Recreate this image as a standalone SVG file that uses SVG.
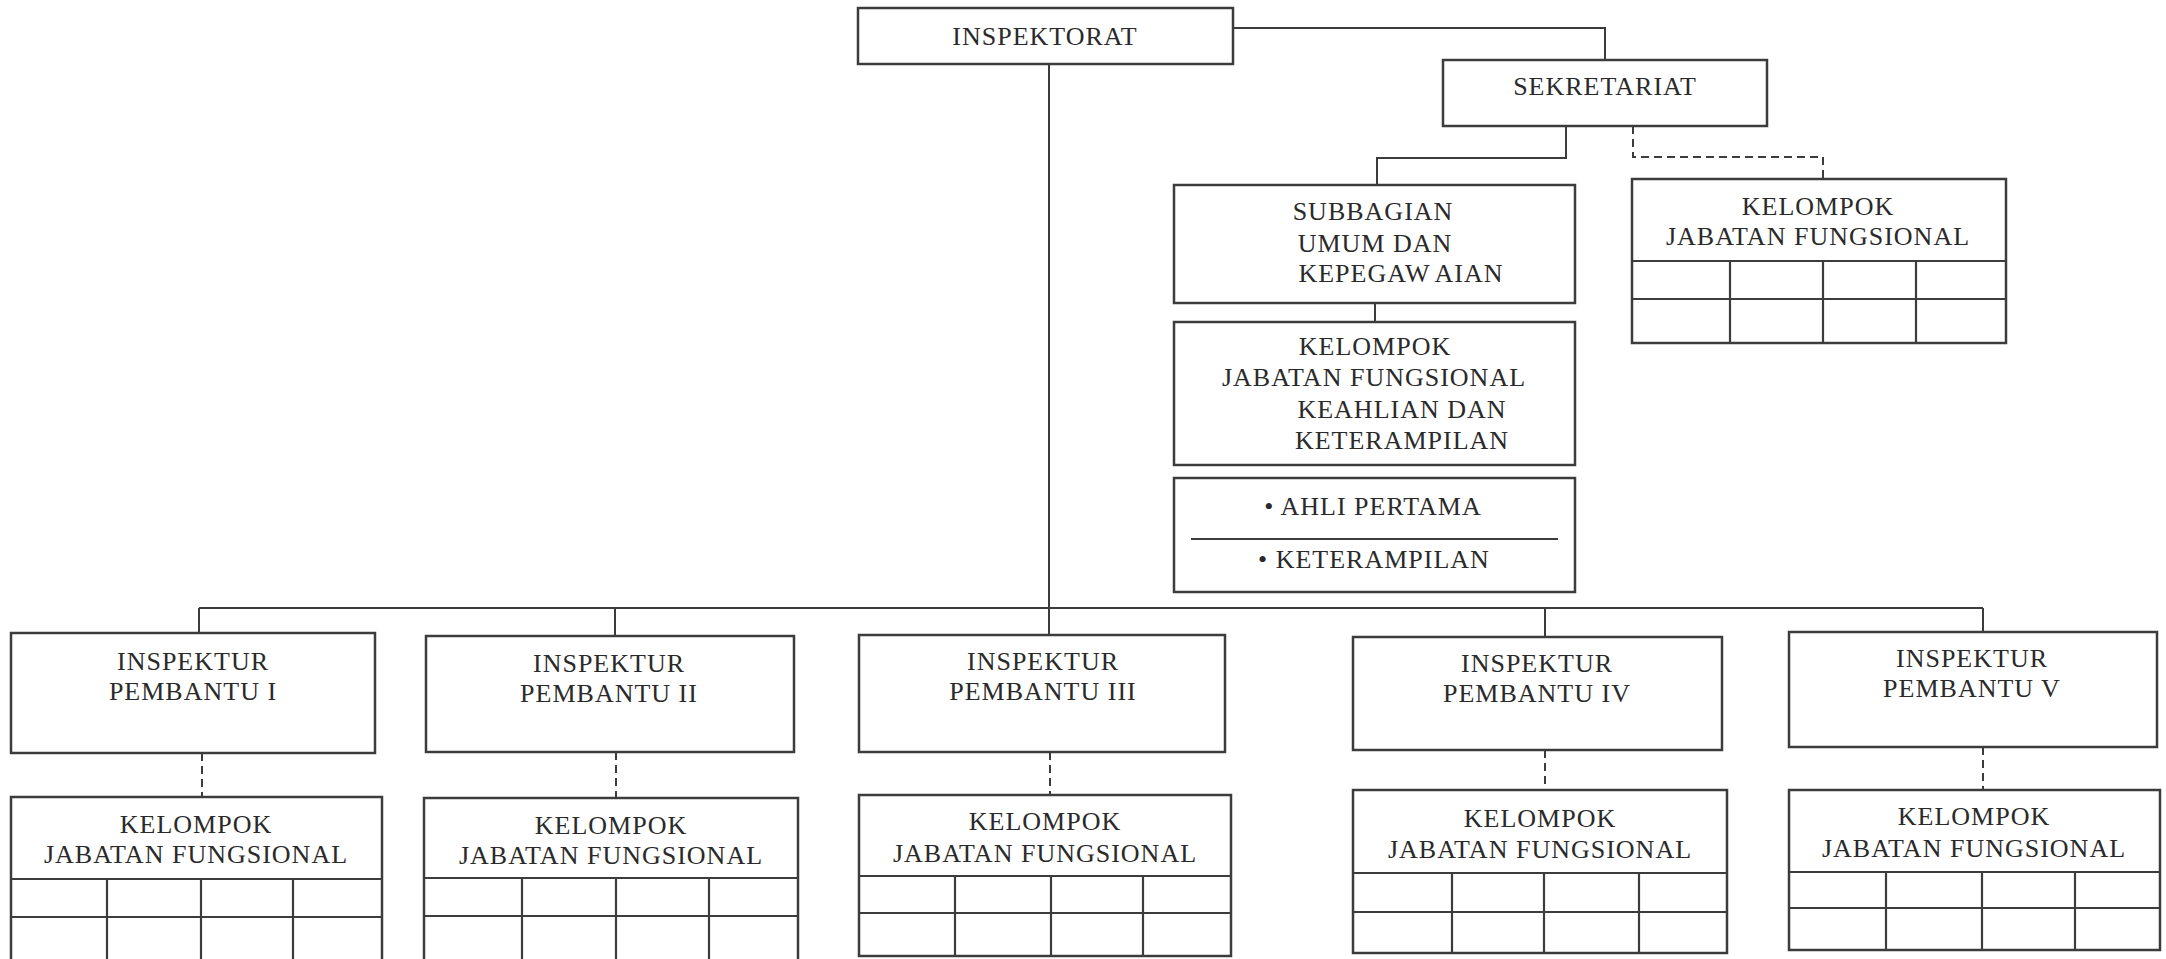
<svg xmlns="http://www.w3.org/2000/svg" width="2166" height="959" viewBox="0 0 2166 959">
<style>
.box{fill:#fff;stroke:#3c3c3c;stroke-width:2.5}
.grid{fill:none;stroke:#3c3c3c;stroke-width:2.2}
.con{fill:none;stroke:#3c3c3c;stroke-width:2}
.dash{fill:none;stroke:#3c3c3c;stroke-width:2;stroke-dasharray:8 5}
text{font-family:"Liberation Serif","DejaVu Serif",serif;font-size:26px;letter-spacing:1px;fill:#2a2a2a;text-anchor:middle}
</style>
<rect width="2166" height="959" fill="#fff"/>
<g id="connectors">
<path class="con" d="M1233,28 H1605 V60"/>
<path class="con" d="M1049,64 V635"/>
<path class="con" d="M1566,126 V158 H1377 V185"/>
<path class="dash" d="M1633,126 V157 H1823 V179"/>
<path class="con" d="M1375,303 V322"/>
<path class="con" d="M199,608 H1983"/>
<path class="con" d="M199,608 V633"/>
<path class="con" d="M615,608 V636"/>
<path class="con" d="M1545,608 V637"/>
<path class="con" d="M1983,608 V632"/>
<path class="dash" d="M202,753 V797"/>
<path class="dash" d="M616,752 V798"/>
<path class="dash" d="M1050,752 V795"/>
<path class="dash" d="M1545,750 V790"/>
<path class="dash" d="M1983,747 V790"/>
</g>
<g id="inspektorat">
<rect class="box" x="858" y="8" width="375" height="56"/>
<text x="1045" y="45">INSPEKTORAT</text>
</g>
<g id="sekretariat">
<rect class="box" x="1443" y="60" width="324" height="66"/>
<text x="1605" y="95">SEKRETARIAT</text>
</g>
<g id="subbagian">
<rect class="box" x="1174" y="185" width="401" height="118"/>
<text x="1373" y="220">SUBBAGIAN</text>
<text x="1375" y="252">UMUM DAN</text>
<text x="1401" y="282">KEPEGAW<tspan dx="7">AIAN</tspan></text>
</g>
<g id="kjf-keahlian">
<rect class="box" x="1174" y="322" width="401" height="143"/>
<text x="1375" y="355">KELOMPOK</text>
<text x="1374" y="386">JABATAN FUNGSIONAL</text>
<text x="1402" y="418">KEAHLIAN DAN</text>
<text x="1402" y="449">KETERAMPILAN</text>
</g>
<g id="jenjang">
<rect class="box" x="1174" y="478" width="401" height="114"/>
<text x="1373" y="515">• AHLI PERTAMA</text>
<line class="grid" x1="1191" y1="539" x2="1558" y2="539"/>
<text x="1374" y="568">• KETERAMPILAN</text>
</g>
<g id="kjf-sekretariat">
<rect class="box" x="1632" y="179" width="374" height="164"/>
<text x="1818" y="215">KELOMPOK</text>
<text x="1818" y="245">JABATAN FUNGSIONAL</text>
<path class="grid" d="M1632,261 H2006 M1632,299 H2006 M1730,261 V343 M1823,261 V343 M1916,261 V343"/>
</g>
<g id="inspektur-1">
<rect class="box" x="11" y="633" width="364" height="120"/>
<text x="193" y="670">INSPEKTUR</text>
<text x="193" y="700">PEMBANTU I</text>
</g>
<g id="kjf-1">
<rect class="box" x="11" y="797" width="371" height="170"/>
<text x="196" y="833">KELOMPOK</text>
<text x="196" y="863">JABATAN FUNGSIONAL</text>
<path class="grid" d="M11,879 H382 M11,917 H382 M107,879 V967 M201,879 V967 M293,879 V967"/>
</g>
<g id="inspektur-2">
<rect class="box" x="426" y="636" width="368" height="116"/>
<text x="609" y="672">INSPEKTUR</text>
<text x="609" y="702">PEMBANTU II</text>
</g>
<g id="kjf-2">
<rect class="box" x="424" y="798" width="374" height="170"/>
<text x="611" y="834">KELOMPOK</text>
<text x="611" y="864">JABATAN FUNGSIONAL</text>
<path class="grid" d="M424,878 H798 M424,916 H798 M522,878 V968 M616,878 V968 M709,878 V968"/>
</g>
<g id="inspektur-3">
<rect class="box" x="859" y="635" width="366" height="117"/>
<text x="1043" y="670">INSPEKTUR</text>
<text x="1043" y="700">PEMBANTU III</text>
</g>
<g id="kjf-3">
<rect class="box" x="859" y="795" width="372" height="161"/>
<text x="1045" y="830">KELOMPOK</text>
<text x="1045" y="862">JABATAN FUNGSIONAL</text>
<path class="grid" d="M859,876 H1231 M859,913 H1231 M955,876 V956 M1051,876 V956 M1143,876 V956"/>
</g>
<g id="inspektur-4">
<rect class="box" x="1353" y="637" width="369" height="113"/>
<text x="1537" y="672">INSPEKTUR</text>
<text x="1537" y="702">PEMBANTU IV</text>
</g>
<g id="kjf-4">
<rect class="box" x="1353" y="790" width="374" height="163"/>
<text x="1540" y="827">KELOMPOK</text>
<text x="1540" y="858">JABATAN FUNGSIONAL</text>
<path class="grid" d="M1353,873 H1727 M1353,912 H1727 M1452,873 V953 M1544,873 V953 M1639,873 V953"/>
</g>
<g id="inspektur-5">
<rect class="box" x="1789" y="632" width="368" height="115"/>
<text x="1972" y="667">INSPEKTUR</text>
<text x="1972" y="697">PEMBANTU V</text>
</g>
<g id="kjf-5">
<rect class="box" x="1789" y="790" width="371" height="160"/>
<text x="1974" y="825">KELOMPOK</text>
<text x="1974" y="857">JABATAN FUNGSIONAL</text>
<path class="grid" d="M1789,872 H2160 M1789,908 H2160 M1886,872 V950 M1982,872 V950 M2075,872 V950"/>
</g>
</svg>
